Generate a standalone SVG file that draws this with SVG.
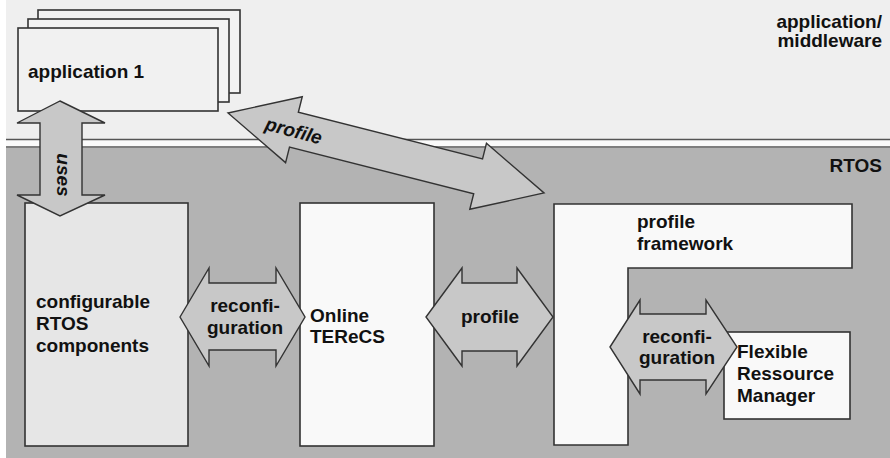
<svg xmlns="http://www.w3.org/2000/svg" width="890" height="458" viewBox="0 0 890 458">
  <style>
    .lbl { font-family: "Liberation Sans", Arial, sans-serif; font-weight: bold; font-size: 19px; fill: #111; }
    .it { font-style: italic; }
    .box { stroke: #333; stroke-width: 1.6; }
    .arrow { fill: #c8c8c8; stroke: #333; stroke-width: 1.4; stroke-linejoin: miter; }
    .mid { text-anchor: middle; }
    .end { text-anchor: end; }
  </style>
  <rect x="0" y="0" width="890" height="458" fill="#ffffff"/>
  <g id="layers">
    <rect x="6" y="0" width="884" height="139" fill="#efefef"/>
    <rect x="6" y="139" width="884" height="9" fill="#fafafa"/>
    <line x1="6" y1="139.5" x2="890" y2="139.5" stroke="#555" stroke-width="1.5"/>
    <line x1="6" y1="147" x2="890" y2="147" stroke="#555" stroke-width="1.5"/>
    <rect x="6" y="148" width="884" height="310" fill="#b3b3b3"/>
    <text class="lbl end" x="882" y="28">application/</text>
    <text class="lbl end" x="882" y="47">middleware</text>
    <text class="lbl end" x="882" y="172">RTOS</text>
  </g>
  <g id="application1">
    <rect class="box" x="38" y="10" width="202" height="83" fill="#f3f3f3"/>
    <rect class="box" x="28" y="19" width="201" height="83" fill="#f3f3f3"/>
    <rect class="box" x="18" y="28" width="200" height="83" fill="#f1f1f1"/>
    <text class="lbl" x="28" y="78">application 1</text>
  </g>
  <g id="configurable-rtos">
    <rect class="box" x="25" y="203" width="163" height="243" fill="#e6e6e6"/>
    <text class="lbl" x="36" y="308">configurable</text>
    <text class="lbl" x="36" y="330">RTOS</text>
    <text class="lbl" x="36" y="352">components</text>
  </g>
  <g id="online-terecs">
    <rect class="box" x="300" y="203" width="134" height="243" fill="#f9f9f9"/>
    <text class="lbl" x="310" y="322">Online</text>
    <text class="lbl" x="310" y="343">TEReCS</text>
  </g>
  <g id="profile-framework">
    <polygon class="box" points="554,204 852,204 852,268 628,268 628,445 554,445" fill="#f9f9f9"/>
    <text class="lbl" x="637" y="228">profile</text>
    <text class="lbl" x="637" y="250">framework</text>
  </g>
  <g id="flexible-ressource-manager">
    <rect class="box" x="724" y="332" width="126" height="87" fill="#f9f9f9"/>
    <text class="lbl" x="737" y="358">Flexible</text>
    <text class="lbl" x="737" y="380">Ressource</text>
    <text class="lbl" x="737" y="402">Manager</text>
  </g>
  <g id="connectors">
    <g id="uses">
      <polygon class="arrow" points="60,101 105,123 82,123 82,195 105,195 60,216 17,195 40,195 40,123 17,123"/>
      <text class="lbl it mid" transform="translate(57,175) rotate(90)">uses</text>
    </g>
    <g id="profile-diagonal">
      <polygon class="arrow" transform="translate(228,113) rotate(14.2)" points="0,0 68,-34 68,-18 258,-18 258,-34 326,0 258,34 258,18 68,18 68,34"/>
      <text class="lbl it mid" transform="translate(292,137) rotate(15)">profile</text>
    </g>
    <g id="reconfiguration-1">
      <polygon class="arrow" points="180,317 209,268 209,283 276,283 276,268 305,317 276,366 276,350 209,350 209,366"/>
      <text class="lbl mid" x="245" y="312">reconfi-</text>
      <text class="lbl mid" x="245" y="334">guration</text>
    </g>
    <g id="profile-link">
      <polygon class="arrow" points="426,317 462,268 462,283 517,283 517,268 553,317 517,366 517,351 462,351 462,366"/>
      <text class="lbl mid" x="490" y="323">profile</text>
    </g>
    <g id="reconfiguration-2">
      <polygon class="arrow" points="610,347 640,300 640,314 706,314 706,300 737,347 706,394 706,380 640,380 640,394"/>
      <text class="lbl mid" x="677" y="343">reconfi-</text>
      <text class="lbl mid" x="677" y="364">guration</text>
    </g>
  </g>
</svg>
